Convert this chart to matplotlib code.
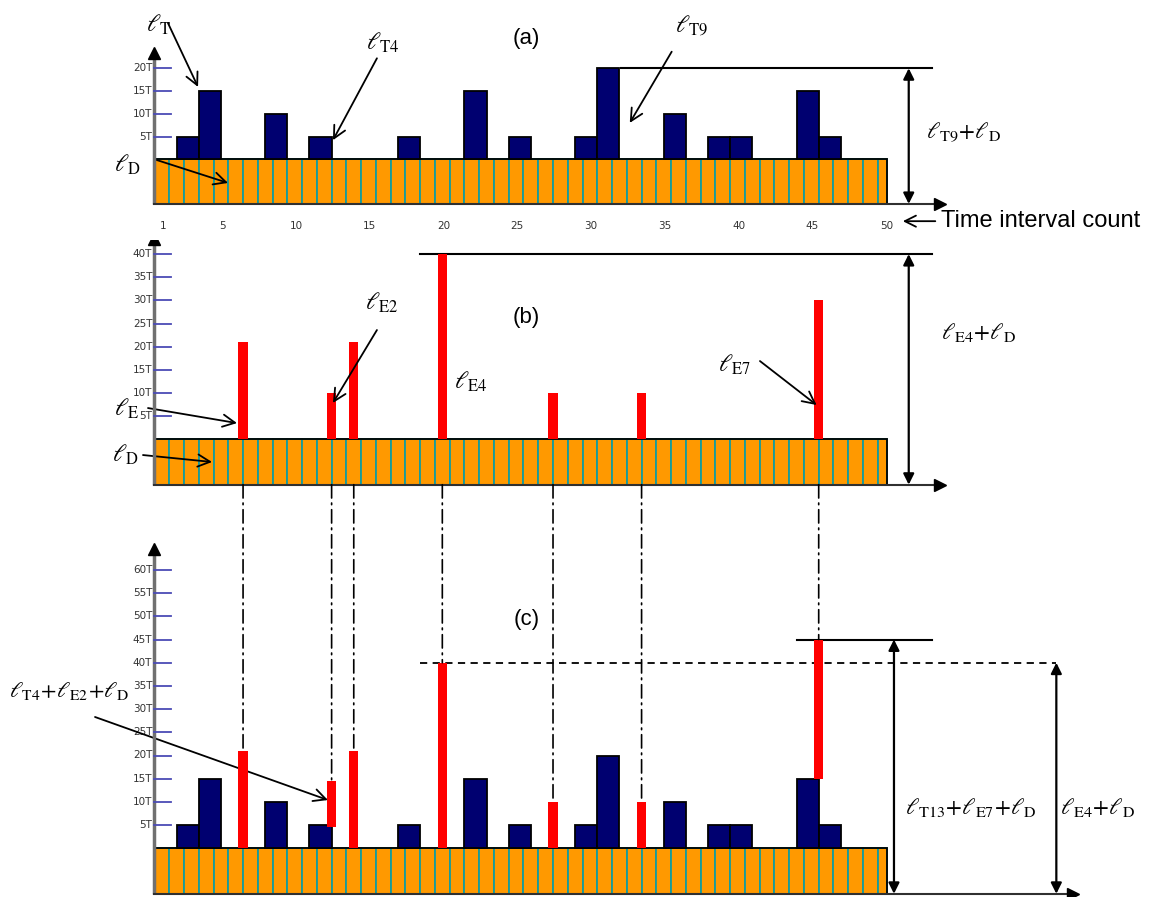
import matplotlib
matplotlib.use('Agg')
import matplotlib.pyplot as plt
import numpy as np
from matplotlib.patches import ConnectionPatch

plt.rcParams['mathtext.fontset'] = 'stix'
plt.rcParams['font.family'] = ['DejaVu Sans']

## DATA
n_cells = 50
cell_labels = [1, 5, 10, 15, 20, 25, 30, 35, 40, 45, 50]
# tasks (blue): slot index on a 1.5-cell grid, height in T
t_slots = [1, 2, 5, 7, 11, 14, 16, 19, 20, 23, 25, 26, 29, 30]
t_heights = [5, 15, 10, 5, 5, 15, 5, 5, 20, 10, 5, 5, 15, 5]
# events (red): slot boundary index, height in T, base in panel (c)
e_slots = [4, 8, 9, 13, 18, 22, 30]
e_heights = [21, 10, 21, 40, 10, 10, 30]
e_base_c = [0, 4.5, 0, 0, 0, 0, 15]
yticks_a = [5, 10, 15, 20]
yticks_b = [5, 10, 15, 20, 25, 30, 35, 40]
yticks_c = [5, 10, 15, 20, 25, 30, 35, 40, 45, 50, 55, 60]

## LAYOUT (pixels of the 1151x897 picture)
W, H = 1151, 897
x0_px, px_cell = 154.5, 14.76
slot_w = 1.5
d_len = 9.8          # height of the l_D band, in T
band_end = 49.6
orange = '#FF9900'
navy = '#000070'
teal = '#159c9c'
tickblue = '#4b4bb5'

fig = plt.figure(figsize=(W / 100, H / 100), dpi=100)

xlim = (-x0_px / px_cell, (W - x0_px) / px_cell)


def panel(base_px, px_T, top_px, bot_px):
    ax = fig.add_axes([0, 1 - bot_px / H, 1, (bot_px - top_px) / H])
    ax.set_xlim(xlim)
    ax.set_ylim(-(bot_px - base_px) / px_T, (base_px - top_px) / px_T)
    ax.axis('off')
    return ax


def base_band(ax, yticks, ytop, xend):
    widths = np.r_[np.ones(n_cells - 1), band_end - (n_cells - 1)]
    ax.bar(np.arange(n_cells), d_len, bottom=-d_len, width=widths, align='edge',
           color=orange, edgecolor=teal, lw=1.3, zorder=2)
    ax.add_patch(plt.Rectangle((0, -d_len), band_end, d_len, fill=False,
                               ec='black', lw=1.3, zorder=3))
    # y axis
    ax.plot([0, 0], [-d_len, ytop - 1.5], color='#707070', lw=2.5, zorder=4,
            solid_capstyle='butt')
    ax.plot([0], [ytop - 1.3], marker='^', ms=9, color='black', zorder=5)
    for t in yticks:
        ax.plot([0, 1.1], [t, t], color=tickblue, lw=1.3, zorder=4)
        ax.text(-0.15, t, f'{t}T', ha='right', va='center', fontsize=7.5,
                color='#333333')
    # x axis
    ax.plot([0, xend - 0.9], [-d_len, -d_len], color='#303030', lw=1.5, zorder=4)
    ax.plot([xend - 0.8], [-d_len], marker='>', ms=9, color='black', zorder=5)


def t_bars(ax):
    ax.bar(np.array(t_slots) * slot_w, t_heights, width=slot_w,
           align='edge', color=navy, edgecolor='black', lw=1.3, zorder=3)


def dim_arrow(ax, x, y0, y1):
    ax.annotate('', xy=(x, y1), xytext=(x, y0),
                arrowprops=dict(arrowstyle='<|-|>', color='black', lw=1.6,
                                mutation_scale=16, shrinkA=0, shrinkB=0),
                annotation_clip=False)


def pointer(ax, txt, xt, yt, xy_from, xy_to, fs=17):
    ax.text(xt, yt, txt, ha='center', va='center', fontsize=fs)
    ax.annotate('', xy=xy_to, xytext=xy_from,
                arrowprops=dict(arrowstyle='->', color='black', lw=1.3,
                                mutation_scale=22, shrinkA=0, shrinkB=0),
                annotation_clip=False)


def ell(*subs):
    return '$' + r'\!+\!'.join(r'\ell_{\mathrm{%s}}' % s for s in subs) + '$'


lab = dict(fontsize=16.5)
e_x = np.array(e_slots) * slot_w
e_w = 0.63

##  PANEL (a)
ax1 = panel(159.3, 4.55, 0, 240)
base_band(ax1, yticks_a, 24.7, 54.0)
t_bars(ax1)
for k in cell_labels:
    ax1.text(k - 0.42, -14.6, str(k), ha='center', va='center', fontsize=7.5,
             color='#333333')
ax1.text(25.2, 26.6, '(a)', ha='center', va='center', fontsize=16,
         family='Liberation Sans')
ax1.plot([31.6, 52.65], [20, 20], color='black', lw=1.5)
dim_arrow(ax1, 51.1, -d_len, 20)
ax1.text(52.3, 5.8, ell('T9', 'D'), ha='left', va='center', **lab)
ax1.annotate('', xy=(50.7, -13.6), xytext=(52.9, -13.6),
             arrowprops=dict(arrowstyle='->', color='black', lw=1.3,
                             mutation_scale=20, shrinkA=0, shrinkB=0),
             annotation_clip=False)
ax1.text(53.3, -14.8, 'Time interval count', ha='left', va='baseline',
         fontsize=17, family='Liberation Sans')
pointer(ax1, ell('T'), 0.3, 29.5, (0.91, 29.96), (2.95, 15.9))
pointer(ax1, ell('T4'), 15.5, 25.5, (15.07, 22.2), (12.09, 4.2))
pointer(ax1, ell('D'), -1.8, -1.3, (0, 0), (4.98, -5.2))
pointer(ax1, ell('T9'), 36.4, 29.5, (35.04, 23.65), (32.2, 8.0))

##  PANEL (b)
ax2 = panel(439.3, 4.63, 240, 500)
base_band(ax2, yticks_b, 44.6, 54.0)
ax2.bar(e_x, e_heights, width=e_w, color='red', lw=0, zorder=3)
ax2.text(25.2, 26.4, '(b)', ha='center', va='center', fontsize=16,
         family='Liberation Sans')
ax2.plot([18.0, 52.65], [40, 40], color='black', lw=1.5)
dim_arrow(ax2, 51.1, -d_len, 40)
ax2.text(53.3, 23.0, ell('E4', 'D'), ha='left', va='center', **lab)
ax2.text(21.4, 12.4, ell('E4'), ha='center', va='center', fontsize=17)
pointer(ax2, ell('E2'), 15.4, 29.4, (15.07, 23.6), (12.09, 7.84))
pointer(ax2, ell('E'), -1.9, 6.6, (-0.44, 6.75), (5.59, 3.5))
pointer(ax2, ell('D'), -2.0, -3.4, (-0.78, -3.4), (3.9, -4.9))
pointer(ax2, ell('E7'), 39.3, 16.1, (41.02, 16.9), (44.86, 7.4))

##  PANEL (c)
ax3 = panel(848.3, 4.64, 500, 897)
base_band(ax3, yticks_c, 65.8, 63.0)
t_bars(ax3)
ax3.bar(e_x, e_heights, bottom=e_base_c, width=e_w, color='red', lw=0,
        zorder=4)
ax3.text(25.2, 49.4, '(c)', ha='center', va='center', fontsize=16,
         family='Liberation Sans')
ax3.plot([43.5, 52.65], [45, 45], color='black', lw=1.5)
ax3.plot([18.0, 61.1], [40, 40], color='black', lw=1.3, ls=(0, (4, 3)))
dim_arrow(ax3, 50.1, -d_len, 45)
dim_arrow(ax3, 61.1, -d_len, 40)
ax3.text(50.85, 8.9, ell('T13', 'E7', 'D'), ha='left', va='center', **lab)
ax3.text(61.35, 8.9, ell('E4', 'D'), ha='left', va='center', **lab)
pointer(ax3, ell('T4', 'E2', 'D'), -5.75, 33.8, (-4.03, 28.3), (11.75, 10.4),
        fs=16)

# dash-dot projections from (b) down to the tops in (c)
for x, h, b in zip(e_x, e_heights, e_base_c):
    con = ConnectionPatch(xyA=(x, -d_len), coordsA=ax2.transData,
                          xyB=(x, b + h), coordsB=ax3.transData,
                          color='black', lw=1.2, ls=(0, (8, 3, 1, 3)))
    fig.add_artist(con)

fig.savefig('out.png', dpi=100)
